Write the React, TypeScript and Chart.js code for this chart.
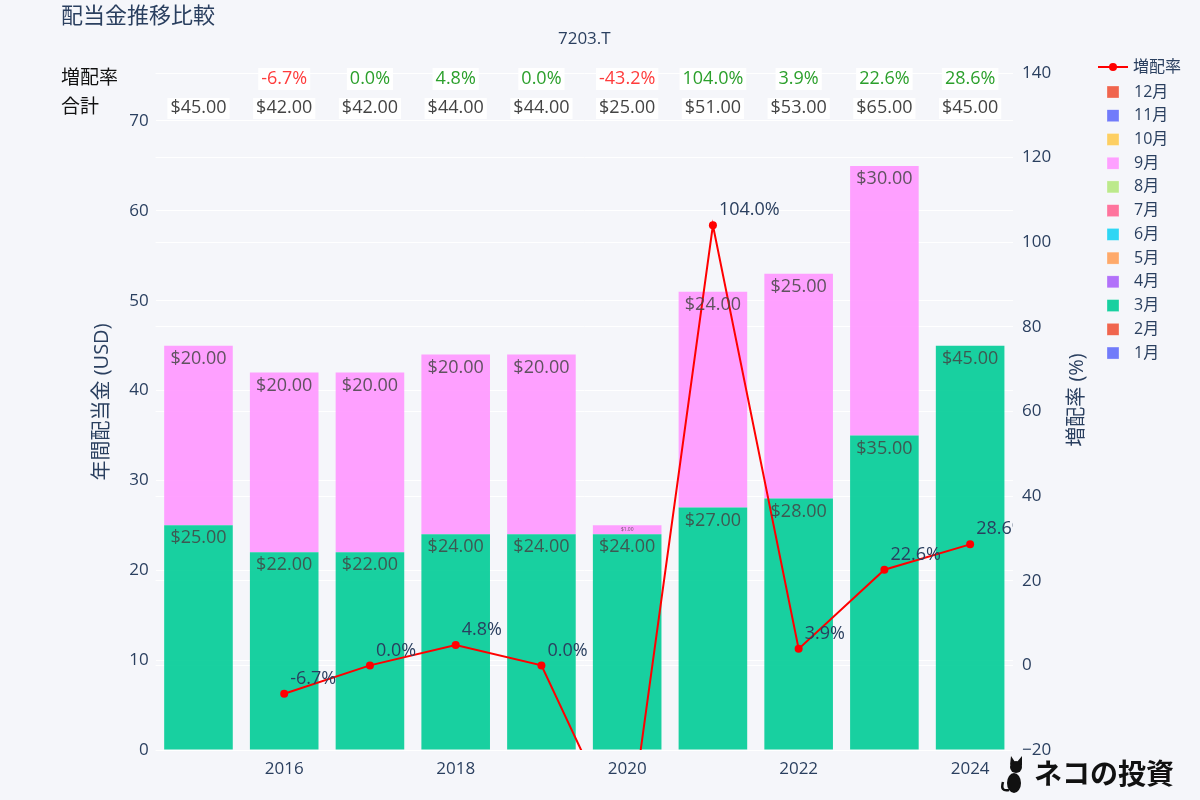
import React, { useEffect, useRef } from 'react';
import { Chart, registerables } from 'chart.js';

Chart.register(...registerables);

const FONT = '"Open Sans", "Noto Sans CJK JP", sans-serif';
const BG = '#f5f6fa';
const TXT = '#2a3f5f';

const years = ['2015', '2016', '2017', '2018', '2019', '2020', '2021', '2022', '2023', '2024'];
const months = ['1月', '2月', '3月', '4月', '5月', '6月', '7月', '8月', '9月', '10月', '11月', '12月'];
const monthColors = ['#636efa', '#EF553B', '#00cc96', '#ab63fa', '#FFA15A', '#19d3f3', '#FF6692', '#B6E880', '#FF97FF', '#FECB52', '#636efa', '#EF553B'];

const marchDividend = [25, 22, 22, 24, 24, 24, 27, 28, 35, 45];
const septemberDividend = [20, 20, 20, 20, 20, 1, 24, 25, 30, 0];
const growthRate: (number | null)[] = [null, -6.7, 0.0, 4.8, 0.0, -43.2, 104.0, 3.9, 22.6, 28.6];

const leftTicks = { min: 0, max: 75.34, step: 10 };
const rightTicks = { min: -20, max: 140, step: 20 };

function monthlySeries(): number[][] {
  return months.map((_, m) => {
    if (m === 2) return marchDividend;
    if (m === 8) return septemberDividend;
    return years.map(() => 0);
  });
}

function hexA(hex: string, a: number) {
  const h = hex.replace('#', '');
  const r = parseInt(h.slice(0, 2), 16);
  const g = parseInt(h.slice(2, 4), 16);
  const b = parseInt(h.slice(4, 6), 16);
  return `rgba(${r},${g},${b},${a})`;
}

const overlayPlugin = {
  id: 'overlay',
  beforeDraw(chart: any) {
    const { ctx } = chart;
    ctx.save();
    ctx.fillStyle = BG;
    ctx.fillRect(0, 0, chart.width, chart.height);
    ctx.restore();
  },
  afterDatasetsDraw(chart: any) {
    const { ctx, chartArea } = chart;
    const series = monthlySeries();
    ctx.save();
    // bar labels
    series.forEach((vals, m) => {
      const meta = chart.getDatasetMeta(m + 1);
      meta.data.forEach((el: any, i: number) => {
        const v = vals[i];
        if (!v) return;
        const h = el.base - el.y;
        let fs = 18;
        let cy = el.y + 13;
        if (h < 26) {
          fs = Math.max(3, h * 0.55);
          cy = el.y + h / 2;
        }
        ctx.font = `${fs}px ${FONT}`;
        ctx.fillStyle = 'rgba(68,68,68,0.85)';
        ctx.textAlign = 'center';
        ctx.textBaseline = 'middle';
        ctx.fillText('$' + v.toFixed(2), el.x, cy);
      });
    });
    // line labels
    ctx.beginPath();
    ctx.rect(chartArea.left, chartArea.top, chartArea.right - chartArea.left, chartArea.bottom - chartArea.top);
    ctx.clip();
    const lm = chart.getDatasetMeta(0);
    lm.data.forEach((pt: any, i: number) => {
      const v = growthRate[i];
      if (v === null) return;
      if (pt.y > chartArea.bottom || pt.y < chartArea.top) return;
      ctx.font = `18px ${FONT}`;
      ctx.fillStyle = TXT;
      ctx.textAlign = 'left';
      ctx.textBaseline = 'middle';
      ctx.fillText(v.toFixed(1) + '%', pt.x + 6, pt.y - 15);
    });
    ctx.restore();
  },
  afterDraw(chart: any) {
    const { ctx } = chart;
    const xs = chart.scales.x;
    const series = monthlySeries();
    const totals = years.map((_, i) => series.reduce((s, arr) => s + arr[i], 0));
    ctx.save();
    // title
    ctx.fillStyle = TXT;
    ctx.font = `22px ${FONT}`;
    ctx.textAlign = 'left';
    ctx.textBaseline = 'middle';
    ctx.fillText('配当金推移比較', 61, 17);
    ctx.font = `17px ${FONT}`;
    ctx.textAlign = 'center';
    ctx.fillText('7203.T', (chart.chartArea.left + chart.chartArea.right) / 2, 39);

    // header table
    ctx.font = `19px ${FONT}`;
    ctx.fillStyle = '#111';
    ctx.textAlign = 'left';
    ctx.fillText('増配率', 61, 79);
    ctx.fillText('合計', 61, 108);
    ctx.font = `18px ${FONT}`;
    ctx.textAlign = 'center';
    years.forEach((_, i) => {
      const x = xs.getPixelForValue(i);
      const r = growthRate[i];
      if (r !== null) {
        const t = r.toFixed(1) + '%';
        const w = ctx.measureText(t).width;
        ctx.fillStyle = '#ffffff';
        ctx.fillRect(x - w / 2 - 3, 68, w + 6, 22);
        ctx.fillStyle = r < 0 ? '#ff3c3c' : '#2ca02c';
        ctx.fillText(t, x, 79);
      }
      const t2 = '$' + totals[i].toFixed(2);
      const w2 = ctx.measureText(t2).width;
      ctx.fillStyle = '#ffffff';
      ctx.fillRect(x - w2 / 2 - 3, 98, w2 + 6, 21);
      ctx.fillStyle = '#444';
      ctx.fillText(t2, x, 108);
    });

    // axis titles
    ctx.fillStyle = TXT;
    ctx.font = `20px ${FONT}`;
    ctx.textAlign = 'center';
    ctx.save();
    ctx.translate(102, 402);
    ctx.rotate(-Math.PI / 2);
    ctx.fillText('年間配当金 (USD)', 0, 0);
    ctx.restore();
    ctx.save();
    ctx.translate(1077, 400);
    ctx.rotate(-Math.PI / 2);
    ctx.fillText('増配率 (%)', 0, 0);
    ctx.restore();

    // legend
    ctx.strokeStyle = '#ff0000';
    ctx.lineWidth = 2;
    ctx.beginPath();
    ctx.moveTo(1098, 67);
    ctx.lineTo(1128, 67);
    ctx.stroke();
    ctx.fillStyle = '#ff0000';
    ctx.beginPath();
    ctx.arc(1113, 67, 4, 0, Math.PI * 2);
    ctx.fill();
    ctx.font = `16px ${FONT}`;
    ctx.textAlign = 'left';
    ctx.fillStyle = TXT;
    ctx.fillText('増配率', 1133, 67);
    for (let k = 0; k < 12; k++) {
      const m = 11 - k;
      const y = 92 + k * 23.73;
      ctx.fillStyle = hexA(monthColors[m], 0.9);
      ctx.fillRect(1107, y - 6, 12, 12);
      ctx.strokeStyle = 'rgba(255,255,255,0.6)';
      ctx.lineWidth = 0.5;
      ctx.strokeRect(1107, y - 6, 12, 12);
      ctx.fillStyle = TXT;
      ctx.fillText(months[m], 1134, y);
    }

    // logo
    ctx.fillStyle = '#111';
    ctx.beginPath();
    ctx.ellipse(1014, 783, 7, 10, 0, 0, Math.PI * 2);
    ctx.fill();
    ctx.beginPath();
    ctx.arc(1016, 767, 6, 0, Math.PI * 2);
    ctx.fill();
    ctx.beginPath();
    ctx.moveTo(1010, 765); ctx.lineTo(1011, 756); ctx.lineTo(1015, 762); ctx.closePath();
    ctx.moveTo(1017, 762); ctx.lineTo(1022, 756); ctx.lineTo(1022, 766); ctx.closePath();
    ctx.fill();
    ctx.strokeStyle = '#111';
    ctx.lineWidth = 2.5;
    ctx.beginPath();
    ctx.moveTo(1009, 790);
    ctx.quadraticCurveTo(1000, 792, 1003, 782);
    ctx.stroke();
    ctx.font = `bold 28px ${FONT}`;
    ctx.textAlign = 'left';
    ctx.textBaseline = 'middle';
    ctx.fillText('ネコの投資', 1034, 776);
    ctx.restore();
  },
};

export default function App() {
  const ref = useRef<HTMLCanvasElement | null>(null);
  useEffect(() => {
    if (!ref.current) return;
    Chart.defaults.font.family = FONT;
    const series = monthlySeries();
    const barSets = series.map((vals, m) => ({
      type: 'bar' as const,
      label: months[m],
      data: vals,
      backgroundColor: hexA(monthColors[m], 0.9),
      borderWidth: 0,
      stack: 'div',
      yAxisID: 'y',
      order: 2,
      barPercentage: 0.8,
      categoryPercentage: 1.0,
    }));
    const chart = new Chart(ref.current, {
      type: 'bar',
      data: {
        labels: years,
        datasets: [
          {
            type: 'line' as const,
            label: '増配率',
            data: growthRate,
            borderColor: '#ff0000',
            backgroundColor: '#ff0000',
            borderWidth: 2,
            pointRadius: 4,
            pointBorderWidth: 0,
            pointBackgroundColor: '#ff0000',
            tension: 0,
            yAxisID: 'y1',
            order: 0,
            spanGaps: false,
          } as any,
          ...barSets,
        ],
      },
      options: {
        responsive: false,
        devicePixelRatio: 1,
        animation: false,
        layout: { padding: { top: 73, left: 0, right: 0, bottom: 0 } },
        plugins: { legend: { display: false }, tooltip: { enabled: false } },
        scales: {
          x: {
            type: 'category',
            stacked: true,
            grid: { display: false },
            border: { display: false },
            ticks: {
              autoSkip: false,
              maxRotation: 0,
              color: TXT,
              font: { size: 17, family: FONT },
              padding: 1,
              callback: (_v: any, i: number) => (parseInt(years[i]) % 2 === 0 ? years[i] : ''),
            },
            afterFit: (s: any) => { s.height = 50; },
          },
          y: {
            position: 'left',
            stacked: true,
            min: leftTicks.min,
            max: leftTicks.max,
            grid: { color: '#ffffff', lineWidth: 1, drawTicks: false },
            border: { display: false },
            ticks: {
              stepSize: leftTicks.step,
              includeBounds: false,
              color: TXT,
              font: { size: 17, family: FONT },
              padding: 7,
            },
            afterFit: (s: any) => { s.width = 155.6; },
          },
          y1: {
            position: 'right',
            min: rightTicks.min,
            max: rightTicks.max,
            grid: { color: '#ffffff', lineWidth: 1, drawTicks: false },
            border: { display: false },
            ticks: {
              stepSize: rightTicks.step,
              color: TXT,
              font: { size: 17, family: FONT },
              padding: 9,
              callback: (v: any) => String(v).replace('-', '\u2212'),
            },
            afterFit: (s: any) => { s.width = 187; },
          },
        },
      } as any,
      plugins: [overlayPlugin],
    });
    return () => chart.destroy();
  }, []);
  return (
    <div style={{ position: 'fixed', left: 0, top: 0, width: 1200, height: 800 }}>
      <canvas ref={ref} width={1200} height={800} style={{ width: 1200, height: 800, display: 'block' }} />
    </div>
  );
}
